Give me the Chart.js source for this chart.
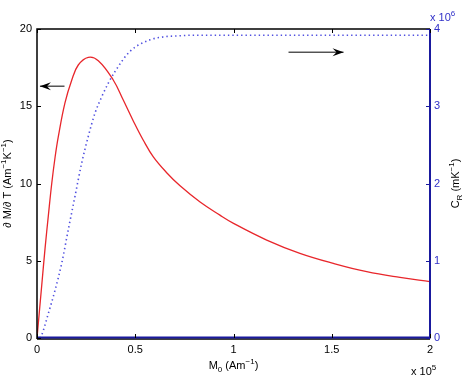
<!DOCTYPE html>
<html><head><meta charset="utf-8">
<script src="https://cdn.jsdelivr.net/npm/chart.js@4"></script>
<style>html,body{margin:0;padding:0;background:#fff}#wrap{width:467px;height:378px}</style>
</head><body><div id="wrap"><canvas id="c" width="467" height="378"></canvas></div>
<script>
// x in units of 1e5 A/m
const dMdT_x = [0, 0.024, 0.041, 0.058, 0.075, 0.092, 0.108, 0.142, 0.177, 0.21, 0.261, 0.312, 0.388, 0.439, 0.49, 0.541, 0.592, 0.66, 0.728, 0.83, 0.931, 1.0, 1.169, 1.338, 1.508, 1.678, 1.847, 2.0];
const dMdT_y = [0, 3.4, 5.8, 7.95, 10.0, 11.7, 13.0, 15.2, 16.7, 17.67, 18.17, 17.95, 16.7, 15.4, 14.05, 12.8, 11.72, 10.7, 9.85, 8.8, 7.95, 7.42, 6.34, 5.48, 4.83, 4.29, 3.92, 3.65];
// C_R in units of 1e6 /(m K)
const CR_x = [0.015, 0.024, 0.058, 0.092, 0.126, 0.159, 0.193, 0.227, 0.261, 0.295, 0.329, 0.363, 0.397, 0.473, 0.575, 0.65, 0.71, 0.8, 2.0];
const CR_y = [0, 0.04, 0.32, 0.62, 0.97, 1.40, 1.83, 2.26, 2.61, 2.91, 3.12, 3.30, 3.45, 3.71, 3.86, 3.9, 3.91, 3.92, 3.92];
const xTicks = [0, 0.5, 1, 1.5, 2];
const leftTicks = [0, 5, 10, 15, 20];
const rightTicks = [0, 1, 2, 3, 4];

const FONT = "'Liberation Sans', Arial, sans-serif";
const BLUE_AX = '#1a1a9e';
const BLUE_TXT = '#3030c8';

function supText(ctx, parts, x, y, align) {
  const base = 11, small = 8;
  let w = 0;
  parts.forEach(p => { ctx.font = (p.s === 'n' ? base : small) + 'px ' + FONT; w += ctx.measureText(p.t).width; });
  let cx = align === 'center' ? x - w / 2 : (align === 'right' ? x - w : x);
  ctx.textAlign = 'left'; ctx.textBaseline = 'alphabetic';
  parts.forEach(p => {
    ctx.font = (p.s === 'n' ? base : small) + 'px ' + FONT;
    const dy = p.s === 'sub' ? 3 : (p.s === 'sup' ? -5 : 0);
    ctx.fillText(p.t, cx, y + dy);
    cx += ctx.measureText(p.t).width;
  });
}

const deco = {
  id: 'deco',
  afterDraw(chart) {
    const {ctx, chartArea: a, scales} = chart;
    const xs = scales.x, yl = scales.yL, yr = scales.yR;
    ctx.save();
    ctx.lineWidth = 1.5;
    ctx.strokeStyle = '#000';
    ctx.beginPath();
    ctx.moveTo(a.left, a.bottom + 1); ctx.lineTo(a.left, a.top); ctx.lineTo(a.right, a.top);
    ctx.moveTo(a.left, a.bottom + 1); ctx.lineTo(a.right, a.bottom + 1);
    ctx.stroke();
    ctx.strokeStyle = BLUE_AX; ctx.lineWidth = 2;
    ctx.beginPath();
    ctx.moveTo(a.left, a.bottom - 0.5); ctx.lineTo(a.right, a.bottom - 0.5); ctx.lineTo(a.right, a.top);
    ctx.stroke();
    ctx.lineWidth = 1; ctx.strokeStyle = '#000';
    ctx.beginPath();
    xTicks.forEach(v => {
      const px = Math.round(xs.getPixelForValue(v)) + 0.5;
      ctx.moveTo(px, a.top); ctx.lineTo(px, a.top + 4);
      ctx.moveTo(px, a.bottom); ctx.lineTo(px, a.bottom - 4);
    });
    leftTicks.forEach(v => {
      const py = Math.round(yl.getPixelForValue(v)) + 0.5;
      ctx.moveTo(a.left, py); ctx.lineTo(a.left + 4, py);
    });
    ctx.stroke();
    ctx.strokeStyle = BLUE_AX;
    ctx.beginPath();
    rightTicks.forEach(v => {
      const py = Math.round(yr.getPixelForValue(v)) + 0.5;
      ctx.moveTo(a.right, py); ctx.lineTo(a.right - 4, py);
    });
    ctx.stroke();
    function arrow(x1, y1, x2, y2) {
      ctx.strokeStyle = '#000'; ctx.fillStyle = '#000'; ctx.lineWidth = 1;
      ctx.beginPath(); ctx.moveTo(x1, y1); ctx.lineTo(x2, y2); ctx.stroke();
      const d = Math.sign(x2 - x1);
      ctx.beginPath();
      ctx.moveTo(x2, y2); ctx.lineTo(x2 - d * 11, y2 - 4); ctx.lineTo(x2 - d * 7, y2); ctx.lineTo(x2 - d * 11, y2 + 4);
      ctx.closePath(); ctx.fill();
    }
    arrow(xs.getPixelForValue(0.14), yl.getPixelForValue(16.3), xs.getPixelForValue(0.015), yl.getPixelForValue(16.3));
    arrow(xs.getPixelForValue(1.28), yr.getPixelForValue(3.7), xs.getPixelForValue(1.56), yr.getPixelForValue(3.7));
    ctx.fillStyle = '#000';
    supText(ctx, [{t:'M',s:'n'},{t:'0',s:'sub'},{t:' (Am',s:'n'},{t:'\u22121',s:'sup'},{t:')',s:'n'}], (a.left + a.right) / 2, 369, 'center');
    supText(ctx, [{t:'x 10',s:'n'},{t:'5',s:'sup'}], 411, 375, 'left');
    ctx.save();
    ctx.translate(11, (a.top + a.bottom) / 2); ctx.rotate(-Math.PI / 2);
    supText(ctx, [{t:'\u2202 M/\u2202 T (Am',s:'n'},{t:'\u22121',s:'sup'},{t:'K',s:'n'},{t:'\u22121',s:'sup'},{t:')',s:'n'}], 0, 0, 'center');
    ctx.restore();
    ctx.save();
    ctx.translate(459, (a.top + a.bottom) / 2); ctx.rotate(-Math.PI / 2);
    supText(ctx, [{t:'C',s:'n'},{t:'R',s:'sub'},{t:' (mK',s:'n'},{t:'\u22121',s:'sup'},{t:')',s:'n'}], 0, 0, 'center');
    ctx.restore();
    ctx.fillStyle = BLUE_TXT;
    supText(ctx, [{t:'x 10',s:'n'},{t:'6',s:'sup'}], 430, 21, 'left');
    ctx.restore();
  }
};

const pts = (xa, ya) => xa.map((x, i) => ({x, y: ya[i]}));

new Chart(document.getElementById('c'), {
  type: 'line',
  data: {
    datasets: [
      { label: 'dM/dT', data: pts(dMdT_x, dMdT_y), yAxisID: 'yL', borderColor: '#e8262b', borderWidth: 1.3, pointRadius: 0, tension: 0.4, fill: false },
      { label: 'CR', data: pts(CR_x, CR_y), yAxisID: 'yR', borderColor: '#5050e0', borderWidth: 1.6, borderDash: [1.4, 3], pointRadius: 0, cubicInterpolationMode: 'monotone', fill: false }
    ]
  },
  options: {
    responsive: false, animation: false, devicePixelRatio: 1,
    layout: { padding: { top: 29, left: 0, right: 0, bottom: 0 } },
    plugins: { legend: { display: false }, tooltip: { enabled: false } },
    scales: {
      x: { type: 'linear', min: 0, max: 2, position: 'bottom',
        afterFit: s => { s.height = 40; },
        afterBuildTicks: s => { s.ticks = xTicks.map(v => ({value: v})); },
        grid: { display: false, drawTicks: false }, border: { display: false },
        ticks: { color: '#000', font: { family: FONT, size: 11 }, padding: 5, maxRotation: 0, callback: v => String(v) } },
      yL: { type: 'linear', min: 0, max: 20, position: 'left',
        afterFit: s => { s.width = 37; },
        afterBuildTicks: s => { s.ticks = leftTicks.map(v => ({value: v})); },
        grid: { display: false, drawTicks: false }, border: { display: false },
        ticks: { color: '#000', font: { family: FONT, size: 11 }, padding: 5 } },
      yR: { type: 'linear', min: 0, max: 4, position: 'right',
        afterFit: s => { s.width = 37; },
        afterBuildTicks: s => { s.ticks = rightTicks.map(v => ({value: v})); },
        grid: { display: false, drawTicks: false }, border: { display: false },
        ticks: { color: BLUE_TXT, font: { family: FONT, size: 11 }, padding: 4 } }
    }
  },
  plugins: [deco]
});
</script></body></html>
